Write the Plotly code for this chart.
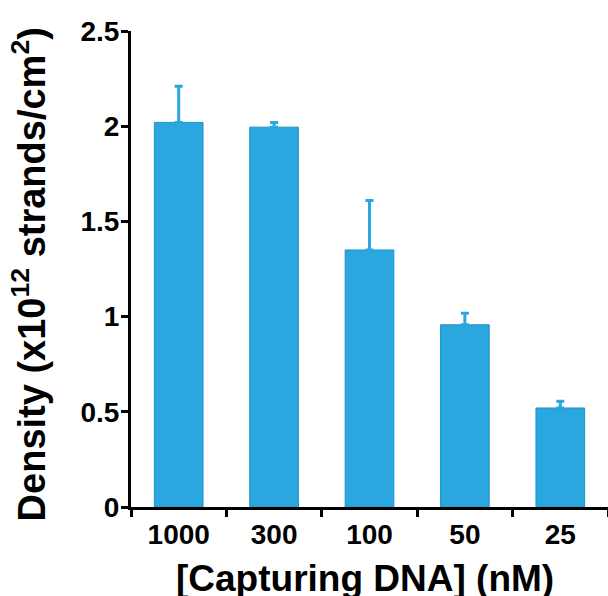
import plotly.graph_objects as go

categories = ["1000", "300", "100", "50", "25"]
density = [2.02, 1.995, 1.35, 0.957, 0.52]
error_plus = [0.19, 0.025, 0.26, 0.06, 0.035]
y_ticks = [0, 0.5, 1, 1.5, 2, 2.5]
y_tick_labels = ["0", "0.5", "1", "1.5", "2", "2.5"]

BLUE = "#29A7DE"
FONT = "Liberation Sans, Arial, sans-serif"

fig = go.Figure()
fig.add_trace(go.Bar(
    x=categories,
    y=density,
    marker=dict(color=BLUE, line=dict(color="#1E93C8", width=1)),
    error_y=dict(type="data", symmetric=False, array=error_plus,
                 arrayminus=[0] * len(error_plus),
                 color=BLUE, thickness=3, width=4),
))

fig.update_layout(
    width=608, height=596,
    margin=dict(l=131, r=0, t=31, b=89),
    plot_bgcolor="white", paper_bgcolor="white",
    bargap=0.49,
    showlegend=False,
    font=dict(family=FONT, color="black"),
    xaxis=dict(
        type="category",
        tickson="boundaries",
        ticks="outside", ticklen=7, tickwidth=2.5, tickcolor="black",
        showline=True, linecolor="black", linewidth=3,
        showgrid=False, zeroline=False,
        tickfont=dict(family=FONT, size=28, weight="bold", color="black"),
    ),
    yaxis=dict(
        range=[0, 2.5],
        tickmode="array", tickvals=y_ticks, ticktext=y_tick_labels,
        ticks="outside", ticklen=7, tickwidth=2.5, tickcolor="black",
        ticklabelstandoff=-4,
        showline=True, linecolor="black", linewidth=3,
        showgrid=False, zeroline=False,
        tickfont=dict(family=FONT, size=28, weight="bold", color="black"),
    ),
    annotations=[
        dict(text="Density (x10<sup>12</sup> strands/cm<sup>2</sup>)",
             xref="paper", yref="paper", x=-0.213, y=0.4895,
             xanchor="center", yanchor="middle", textangle=-90,
             showarrow=False,
             font=dict(family=FONT, size=38, weight="bold", color="black")),
        dict(text="[Capturing DNA] (nM)",
             xref="paper", yref="paper", x=0.4906, y=-0.15,
             xanchor="center", yanchor="middle",
             showarrow=False,
             font=dict(family=FONT, size=37, weight="bold", color="black")),
    ],
)

fig.write_html("out.html", config={"displayModeBar": False},
               post_script="document.body.style.margin='0';")
